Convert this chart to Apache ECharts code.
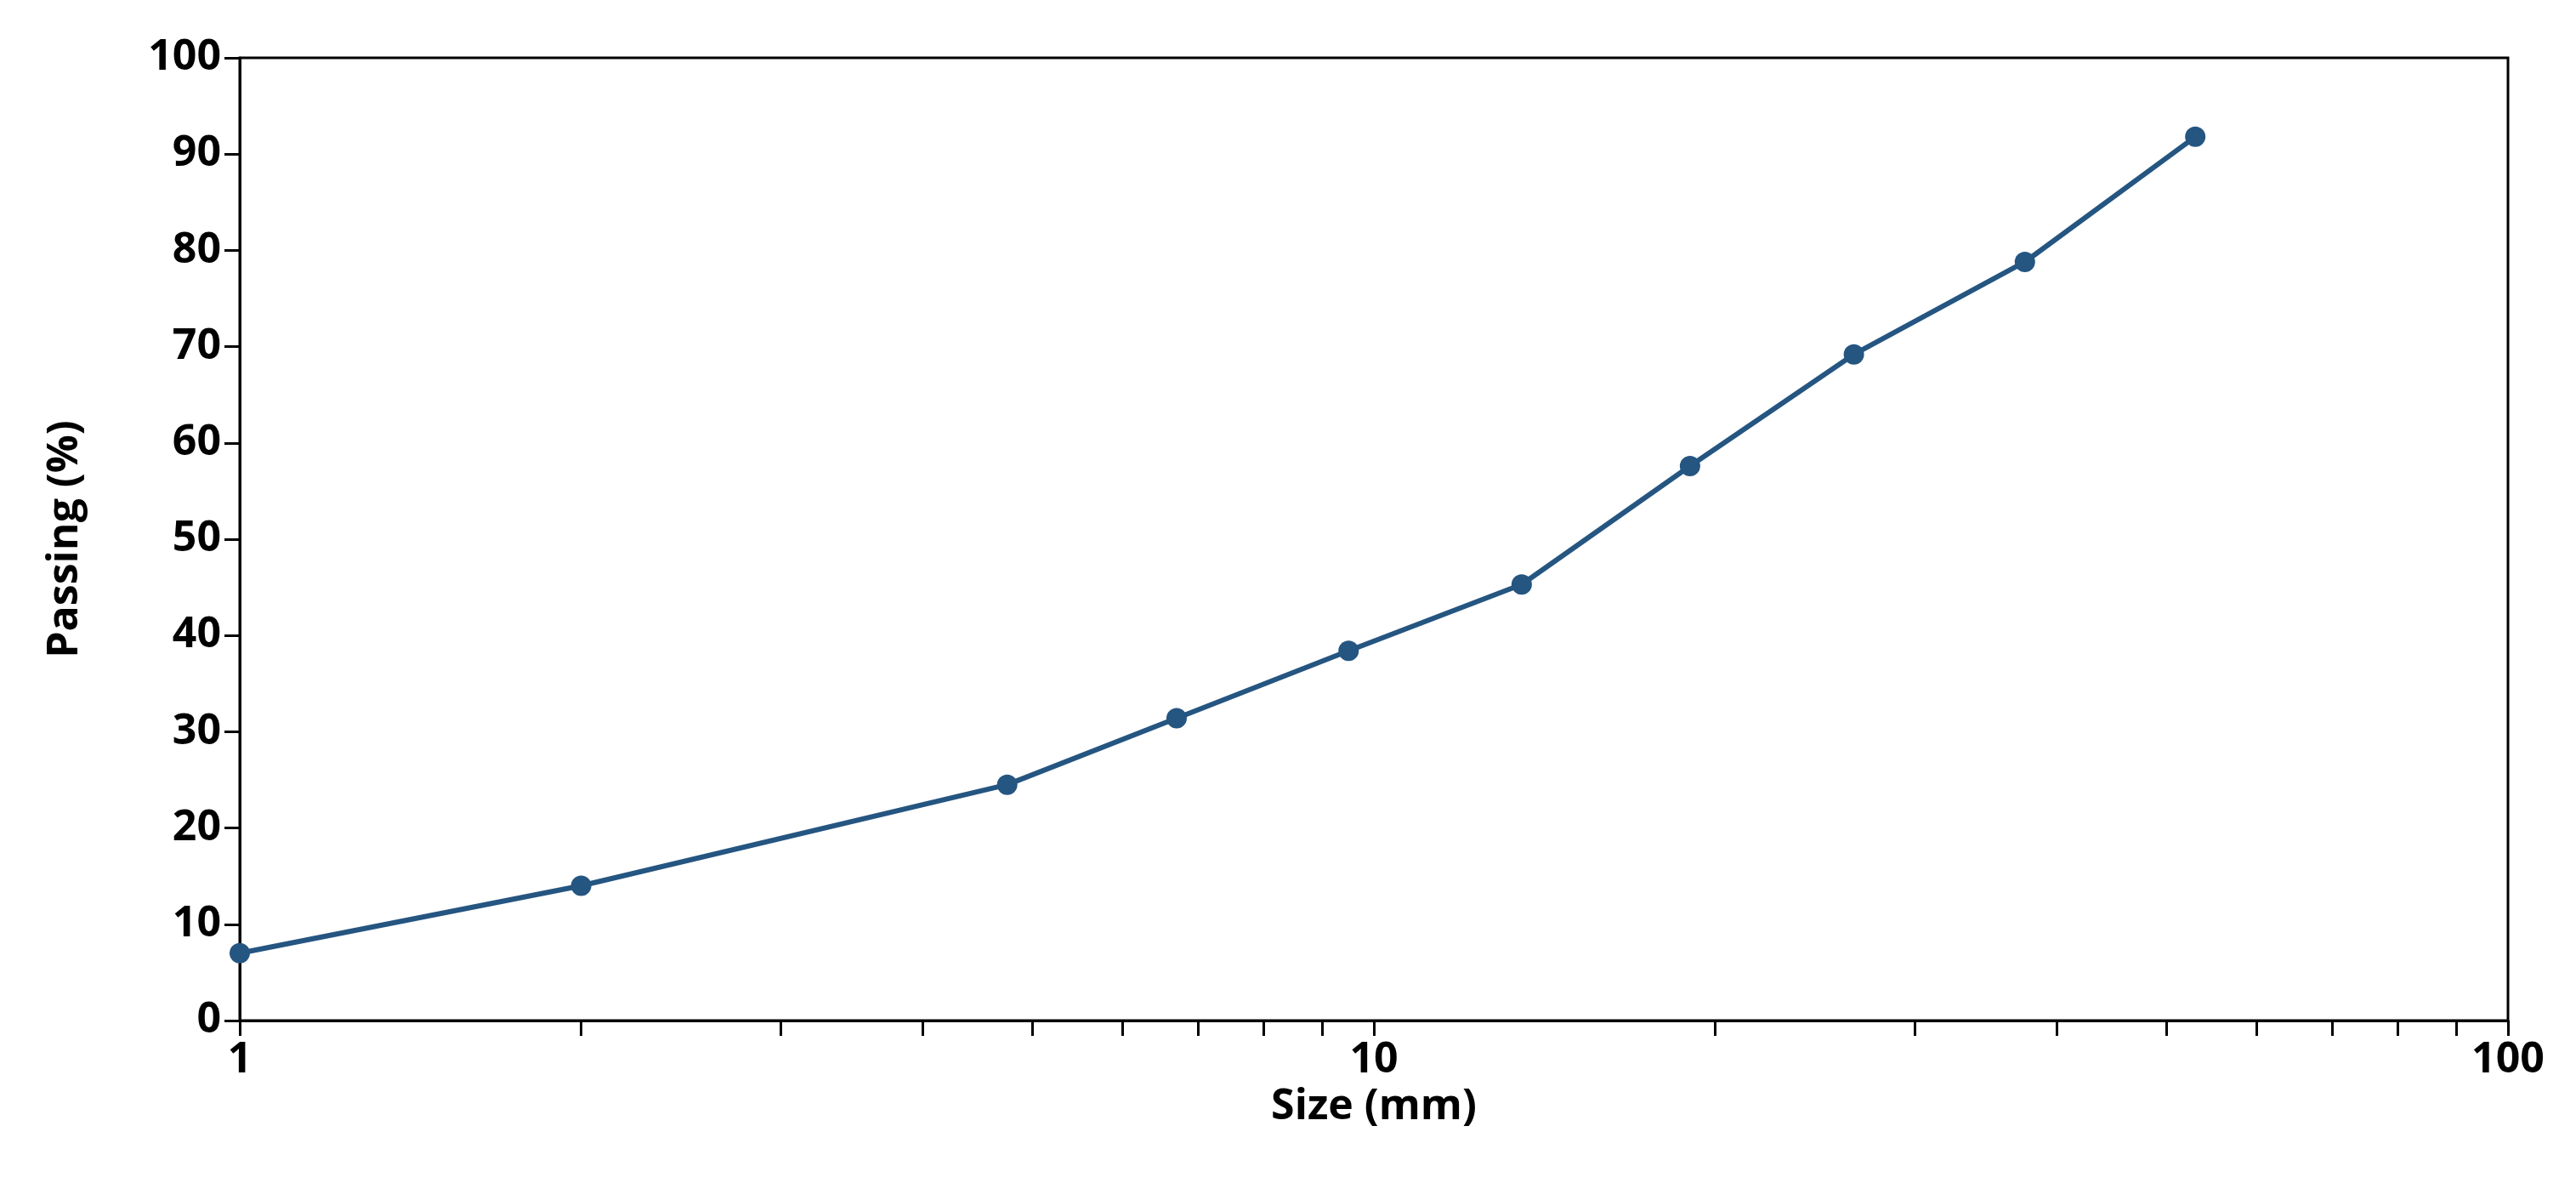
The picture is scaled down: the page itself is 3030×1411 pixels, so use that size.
<!DOCTYPE html>
<html><head><meta charset="utf-8">
<script src="https://cdn.jsdelivr.net/npm/echarts@6/dist/echarts.min.js"></script>
<style>html,body{margin:0;padding:0;background:#fff}#c{width:3030px;height:1411px}</style>
</head><body><div id="c"></div>
<script>
const sizes = [1, 2, 4.75, 6.7, 9.5, 13.5, 19, 26.5, 37.5, 53];
const passing = [7, 14, 24.5, 31.4, 38.4, 45.3, 57.6, 69.2, 78.8, 91.8];
const yTicks = [0,10,20,30,40,50,60,70,80,90,100];
const chart = echarts.init(document.getElementById('c'));
const font = '"Open Sans", "Liberation Sans", sans-serif';
chart.setOption({
  animation:false,
  grid:{left:282,right:80,top:68,bottom:211,show:true,borderColor:'#000',borderWidth:3},
  xAxis:{type:'log',logBase:10,min:1,max:100,
    name:'Size (mm)',nameLocation:'middle',nameGap:62,
    nameTextStyle:{fontFamily:font,fontWeight:'bold',fontSize:50,color:'#000'},
    axisLine:{lineStyle:{color:'#000',width:3}},
    axisTick:{length:18,lineStyle:{color:'#000',width:3}},
    minorTick:{show:true,splitNumber:9,length:18,lineStyle:{color:'#000',width:3}},
    splitLine:{show:false},
    axisLabel:{fontFamily:font,fontWeight:'bold',fontSize:50,color:'#000',margin:22}},
  yAxis:{type:'value',min:0,max:100,interval:10,
    name:'Passing (%)',nameLocation:'middle',nameGap:180,
    nameTextStyle:{fontFamily:font,fontWeight:'bold',fontSize:50,color:'#000'},
    axisLine:{show:true,lineStyle:{color:'#000',width:3}},
    axisTick:{show:true,length:18,lineStyle:{color:'#000',width:3}},
    splitLine:{show:false},
    axisLabel:{fontFamily:font,fontWeight:'bold',fontSize:50,color:'#000',margin:22,
      formatter:v=>yTicks.includes(v)?String(v):''}},
  series:[{type:'line',data:sizes.map((s,i)=>[s,passing[i]]),
    symbol:'circle',symbolSize:24,
    lineStyle:{color:'#255581',width:6},itemStyle:{color:'#255581'}}]
});
</script></body></html>
